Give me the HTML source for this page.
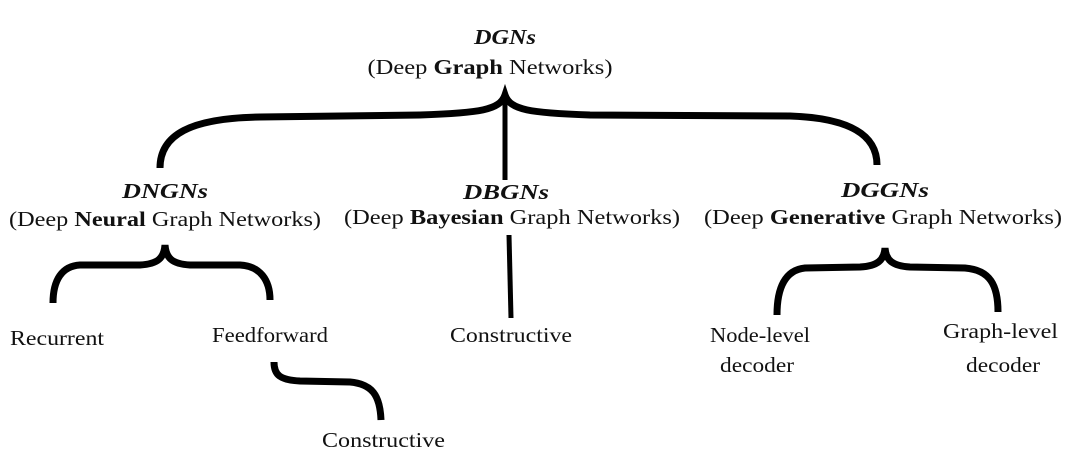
<!DOCTYPE html>
<html><head><meta charset="utf-8"><style>
html,body{margin:0;padding:0;background:#fff;}
svg{display:block;}
text{font-family:"Liberation Serif",serif;font-size:21px;fill:#111;}
.t{font-style:italic;font-weight:bold;}
</style></head><body>
<svg width="1080" height="457" viewBox="0 0 1080 457" xmlns="http://www.w3.org/2000/svg">
<g fill="none" stroke="#000" stroke-width="7" stroke-linecap="butt">
<!-- top brace -->
<path d="M160,168 C160,135 190,118 260,117 L420,115 C480,113 500,110 505,95 C510,110 530,113 590,115 L790,116 C850,118 877,135 877,165"/>
<path d="M505,95 L505,180" stroke-width="5"/>
<!-- DNGN brace -->
<path d="M53,303 C53,280 62,266 80,265 L140,265 C158,264 164,258 165,245 C166,258 172,264 190,265 L240,265 C260,266 270,280 270,300"/>
<!-- Bayesian line -->
<path d="M509,235 L511,318" stroke-width="5"/>
<!-- feedforward sub brace -->
<path d="M274,362 C274,375 280,380 300,381 L350,382 C372,384 380,395 381,420"/>
<!-- DGGN brace -->
<path d="M777,315 C777,288 785,270 805,268 L860,267 C878,266 884,260 885,248 C886,260 892,266 910,267 L965,268 C990,270 998,285 998,312"/>
</g>
<text class="t" x="505" y="44" text-anchor="middle" textLength="62" lengthAdjust="spacingAndGlyphs">DGNs</text>
<text x="490" y="74" text-anchor="middle" textLength="245" lengthAdjust="spacingAndGlyphs">(Deep <tspan font-weight="bold">Graph</tspan> Networks)</text>
<text class="t" x="165" y="198" text-anchor="middle" textLength="86" lengthAdjust="spacingAndGlyphs">DNGNs</text>
<text x="165" y="226" text-anchor="middle" textLength="312" lengthAdjust="spacingAndGlyphs">(Deep <tspan font-weight="bold">Neural</tspan> Graph Networks)</text>
<text class="t" x="506" y="199" text-anchor="middle" textLength="86" lengthAdjust="spacingAndGlyphs">DBGNs</text>
<text x="512" y="224" text-anchor="middle" textLength="336" lengthAdjust="spacingAndGlyphs">(Deep <tspan font-weight="bold">Bayesian</tspan> Graph Networks)</text>
<text class="t" x="885" y="197" text-anchor="middle" textLength="88" lengthAdjust="spacingAndGlyphs">DGGNs</text>
<text x="883" y="224" text-anchor="middle" textLength="358" lengthAdjust="spacingAndGlyphs">(Deep <tspan font-weight="bold">Generative</tspan> Graph Networks)</text>
<text x="10" y="345" textLength="94" lengthAdjust="spacingAndGlyphs">Recurrent</text>
<text x="212" y="342" textLength="116" lengthAdjust="spacingAndGlyphs">Feedforward</text>
<text x="450" y="342" textLength="122" lengthAdjust="spacingAndGlyphs">Constructive</text>
<text x="322" y="447" textLength="123" lengthAdjust="spacingAndGlyphs">Constructive</text>
<text x="710" y="342" textLength="100" lengthAdjust="spacingAndGlyphs">Node-level</text>
<text x="720" y="372" textLength="74" lengthAdjust="spacingAndGlyphs">decoder</text>
<text x="943" y="338" textLength="115" lengthAdjust="spacingAndGlyphs">Graph-level</text>
<text x="966" y="372" textLength="74" lengthAdjust="spacingAndGlyphs">decoder</text>
</svg>
</body></html>
